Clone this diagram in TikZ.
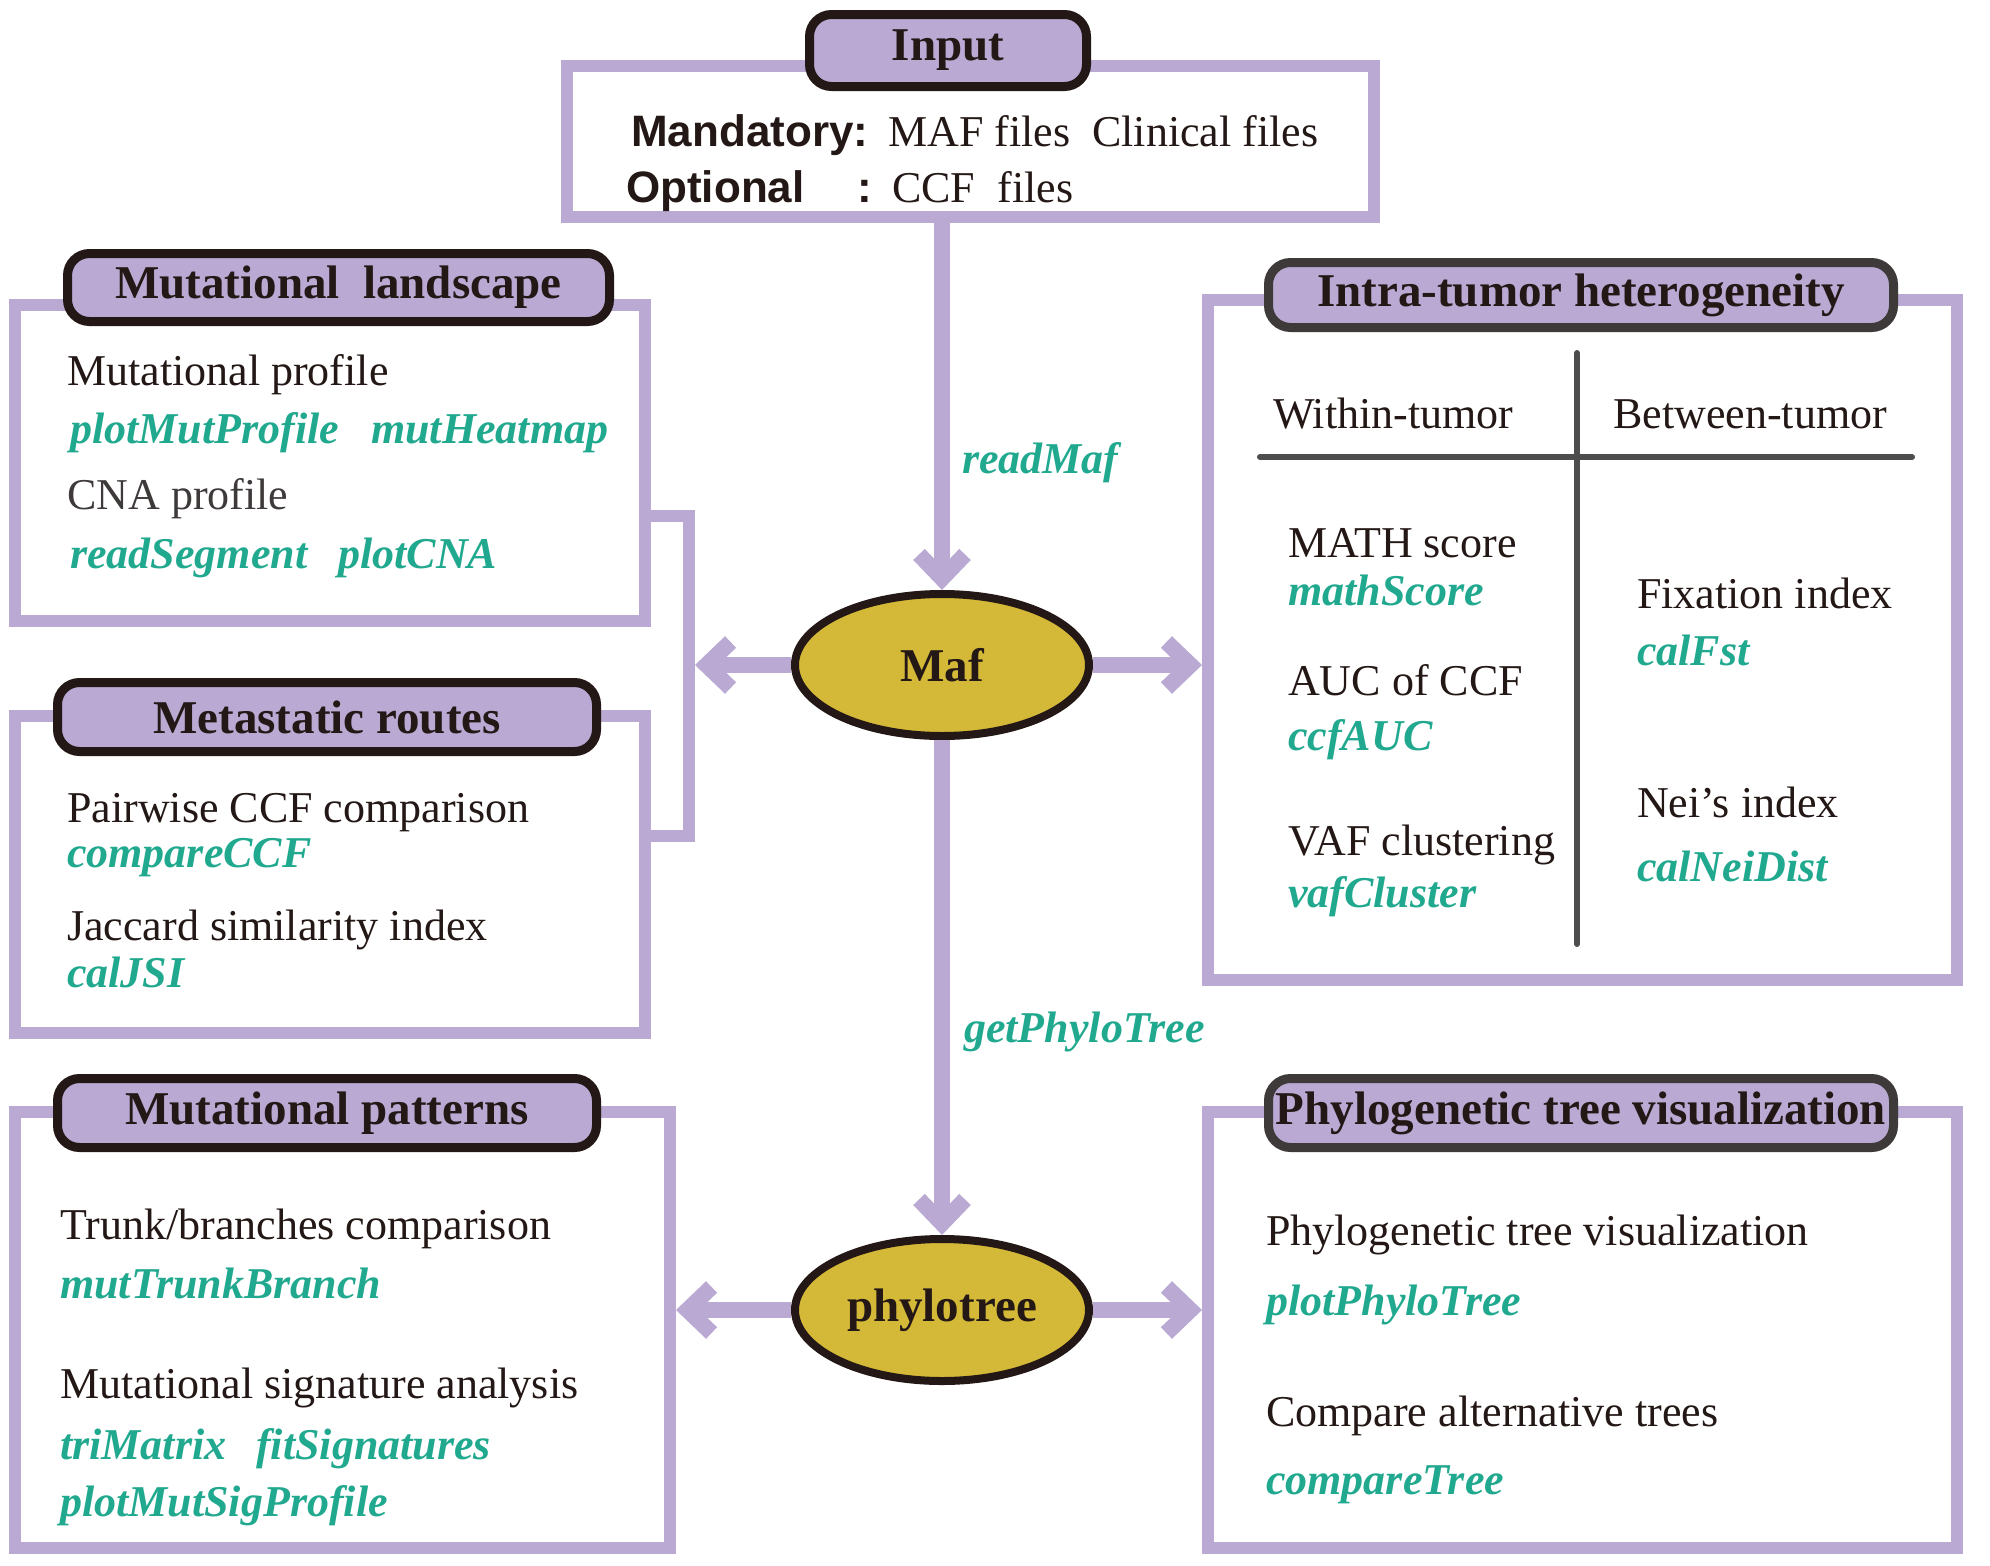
\documentclass[tikz,border=0pt]{standalone}
\usepackage{fontspec}
\setmainfont{Liberation Serif}
\newfontfamily\labelsans{Liberation Sans}
\usetikzlibrary{arrows.meta,shapes.geometric,calc}

\definecolor{lav}{HTML}{B9A9D3}
\definecolor{tealfn}{HTML}{21A98F}
\definecolor{inkdark}{HTML}{231815}
\definecolor{inkgray}{HTML}{3E3A39}
\definecolor{gold}{HTML}{D4B837}
\definecolor{rulegray}{HTML}{4D4D4D}

\tikzset{
  frame/.style={draw=lav, line width=12pt, fill=white, inner sep=0pt},
  titlebox/.style={draw=inkdark, line width=9pt, fill=lav, rounded corners=22pt,
    inner sep=0pt, font=\fontsize{47}{56}\selectfont\bfseries, text=inkdark},
  titleboxgray/.style={titlebox, draw=inkgray},
  body/.style={anchor=base west, inner sep=0pt, font=\fontsize{44}{52}\selectfont, text=inkdark},
  sanslabel/.style={anchor=base west, inner sep=0pt, font=\fontsize{44}{52}\labelsans\bfseries, text=inkdark},
  fn/.style={anchor=base west, inner sep=0pt, font=\fontsize{44}{52}\selectfont\bfseries\itshape, text=tealfn},
  hub/.style={ellipse, draw=inkdark, line width=8pt, fill=gold, inner sep=0pt,
    minimum width=294pt, minimum height=142pt,
    font=\fontsize{47}{56}\selectfont\bfseries, text=inkdark},
  flow/.style={draw=lav, line width=16pt, -{Straight Barb[length=24pt,width=46pt]}},
  bracket/.style={draw=lav, line width=12pt, line join=miter},
  divider/.style={draw=rulegray, line width=6pt, line cap=round},
}

\begin{document}
\begin{tikzpicture}[x=1pt,y=-1pt]
\useasboundingbox (0,0) rectangle (1990,1566);

% outer frames
\node[frame, minimum width=807pt, minimum height=151pt] (inp) at (970.5,141.5) {};
\node[frame, minimum width=630pt, minimum height=316pt] (ml) at (330,463) {};
\node[frame, minimum width=630pt, minimum height=317pt] (mr) at (330,874.5) {};
\node[frame, minimum width=655pt, minimum height=436pt] (mp) at (342.5,1330) {};
\node[frame, minimum width=749pt, minimum height=680pt] (ith) at (1582.5,640) {};
\node[frame, minimum width=749pt, minimum height=436pt] (pt) at (1582.5,1330) {};

% bracket joining the two upper-left frames
\coordinate (brk) at (695,665);
\draw[bracket] ($(ml.east)+(-6,53)$) -- (689,516) -- (689,836) -- ($(mr.east)+(-6,-38.5)$);

% title tabs
\node[titlebox, minimum width=277pt, minimum height=72pt] (inpT) at (948,50.5) {Input};
\node[titlebox, minimum width=542pt, minimum height=68pt] (mlT) at (338.5,287.5) {Mutational\ \ landscape};
\node[titlebox, minimum width=539pt, minimum height=69pt] (mrT) at (327,717) {Metastatic routes};
\node[titlebox, minimum width=539pt, minimum height=69pt] (mpT) at (327,1113) {Mutational patterns};
\node[titleboxgray, minimum width=625pt, minimum height=65pt] (ithT) at (1581,295) {Intra-tumor heterogeneity};
\node[titleboxgray, minimum width=625pt, minimum height=69pt] (ptT) at (1581,1113) {Phylogenetic tree visualization};

% central objects
\node[hub] (maf) at (942,665) {Maf};
\node[hub] (phy) at (942,1310) {phylotree};

% connectors
\draw[flow] (maf.north |- inp.south) -- (maf.north);
\draw[flow] (maf.south) -- (phy.north);
\draw[flow] (maf.west) -- (brk);
\draw[flow] (maf.east) -- (ith.west |- maf.east);
\draw[flow] (phy.west) -- (mp.east |- phy.west);
\draw[flow] (phy.east) -- (pt.west |- phy.east);
\node[fn] (lblRead) at (962,473) {readMaf};
\node[fn] (lblTree) at (964,1042) {getPhyloTree};

% input contents
\node[sanslabel] (inMand) at (631,146) {Mandatory:};
\node[body] (inMandF) at (888,146) {MAF files\ \ Clinical files};
\node[sanslabel] (inOpt) at (626,202) {Optional};
\node[sanslabel] (inColon) at (857,202) {:};
\node[body] (inOptF) at (892,202) {CCF\ \ files};

% mutational landscape
\node[body] (ml1) at (67,385) {Mutational profile};
\node[fn] (ml2) at (70,443) {plotMutProfile};
\node[fn] (ml3) at (371,443) {mutHeatmap};
\node[body, text=inkgray] (ml4) at (67,509) {CNA profile};
\node[fn] (ml5) at (70,568) {readSegment};
\node[fn] (ml6) at (338,568) {plotCNA};

% metastatic routes
\node[body] (mr1) at (67,822) {Pairwise CCF comparison};
\node[fn] (mr2) at (67,867) {compareCCF};
\node[body] (mr3) at (67,940) {Jaccard similarity index};
\node[fn] (mr4) at (67,987) {calJSI};

% mutational patterns
\node[body] (mp1) at (60,1239) {Trunk/branches comparison};
\node[fn] (mp2) at (60,1298) {mutTrunkBranch};
\node[body] (mp3) at (60,1398) {Mutational signature analysis};
\node[fn] (mp4) at (60,1459) {triMatrix};
\node[fn] (mp5) at (256,1459) {fitSignatures};
\node[fn] (mp6) at (60,1516) {plotMutSigProfile};

% intra-tumor heterogeneity
\coordinate (divTop) at (1577,353);
\coordinate (divBot) at (1577,944);
\coordinate (divL) at (1260,457);
\coordinate (divR) at (1912,457);
\draw[divider] (divTop) -- (divBot);
\draw[divider] (divL) -- (divR);
\node[body] (ithA) at (1273,428) {Within-tumor};
\node[body] (ithB) at (1613,428) {Between-tumor};
\node[body] (ith1) at (1288,557) {MATH score};
\node[fn] (ith2) at (1288,605) {mathScore};
\node[body] (ith3) at (1288,695) {AUC of CCF};
\node[fn] (ith4) at (1288,750) {ccfAUC};
\node[body] (ith5) at (1288,855) {VAF clustering};
\node[fn] (ith6) at (1288,907) {vafCluster};
\node[body] (ith7) at (1637,608) {Fixation index};
\node[fn] (ith8) at (1637,665) {calFst};
\node[body] (ith9) at (1637,817) {Nei’s index};
\node[fn] (ith10) at (1637,881) {calNeiDist};

% phylogenetic tree visualization
\node[body] (pt1) at (1266,1245) {Phylogenetic tree visualization};
\node[fn] (pt2) at (1266,1315) {plotPhyloTree};
\node[body] (pt3) at (1266,1426) {Compare alternative trees};
\node[fn] (pt4) at (1266,1494) {compareTree};
\end{tikzpicture}
\end{document}
